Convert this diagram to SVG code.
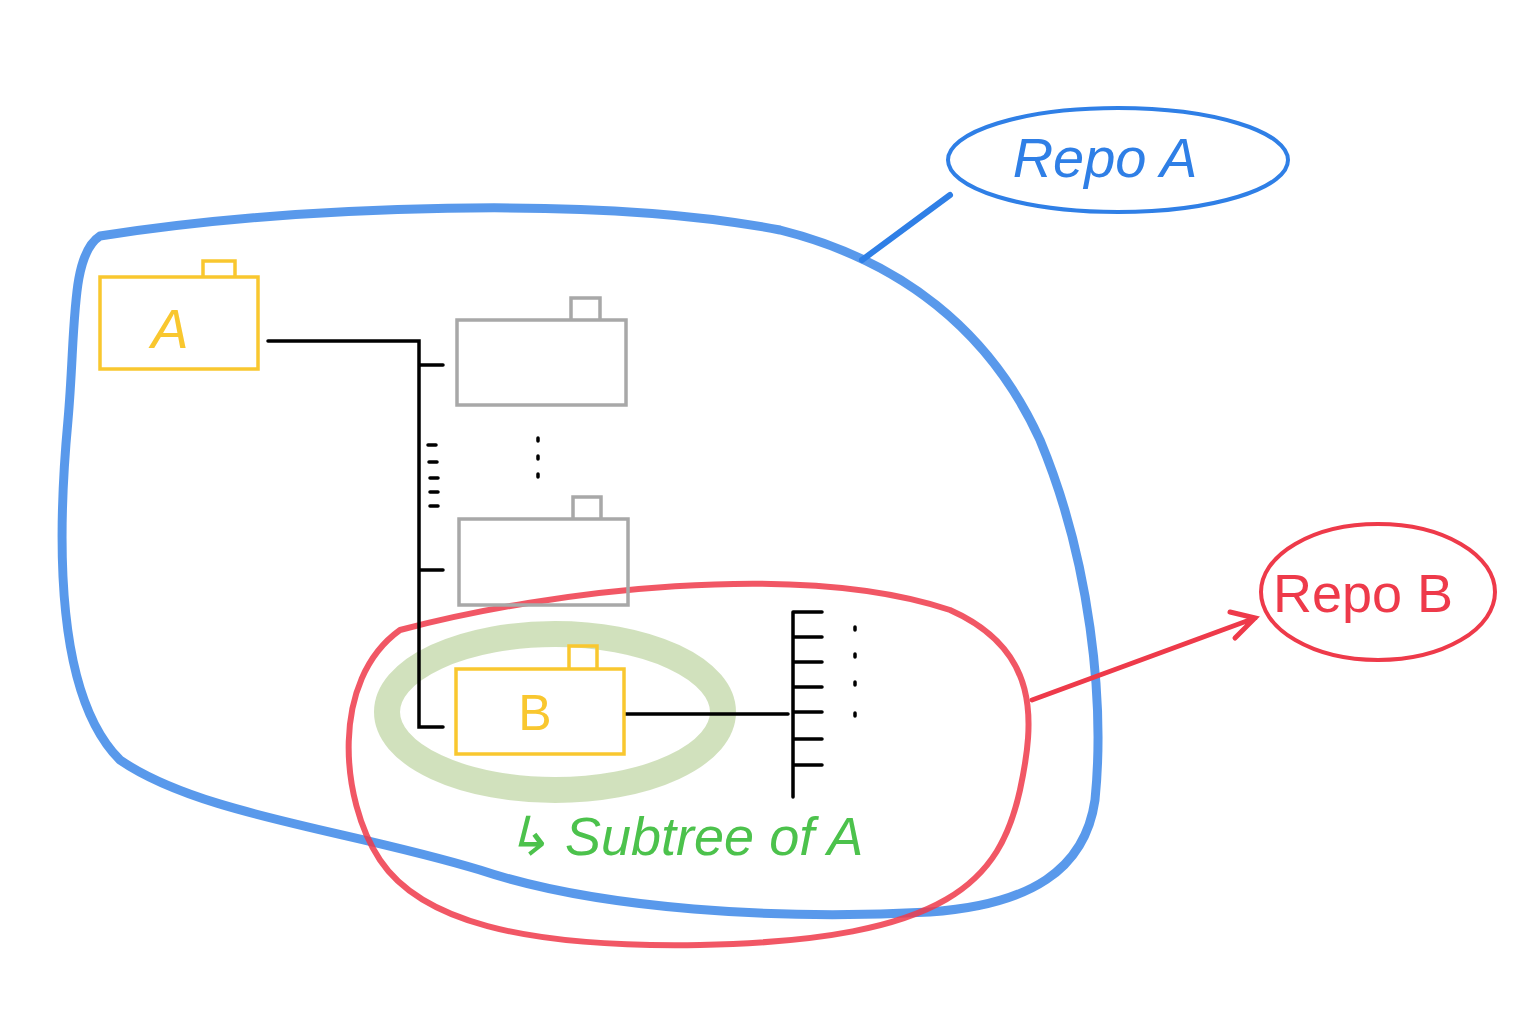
<svg xmlns="http://www.w3.org/2000/svg" width="1536" height="1024" viewBox="0 0 1536 1024">
<style>
.f{fill:none;stroke-width:3.5}
.y{stroke:#F9C72F}.g{stroke:#A8A8A8}
.k{stroke:#000;stroke-width:3.5;fill:none;stroke-linecap:round}
.h{font-family:"Liberation Sans",sans-serif;font-style:italic}
</style>
<rect width="1536" height="1024" fill="#fff"/>
<g id="blue-region"><path d="M100,236 C300,205 600,195 780,230 C900,260 990,330 1040,440 C1090,560 1105,700 1095,800 C1085,870 1030,905 930,912 C780,920 600,910 480,870 C350,830 200,815 120,760 C60,700 55,560 68,420 C76,330 70,255 100,236 Z" fill="none" stroke="#2F7FE6" stroke-width="9" stroke-opacity="0.8"/></g>
<g id="red-region"><path d="M400,630 C550,590 800,560 950,610 C1040,650 1035,720 1020,790 C1000,880 950,940 700,945 C520,948 420,920 380,860 C340,800 330,680 400,630 Z" fill="none" stroke="#EE3A4A" stroke-width="6" stroke-opacity="0.85"/></g>
<g id="subtree-highlight"><ellipse cx="555" cy="712" rx="168" ry="78" fill="none" stroke="#8DB55A" stroke-width="26" stroke-opacity="0.4"/></g>
<g id="connectors">
<path class="k" d="M268,341 H419 V727 H443 M419,365 H443 M419,570 H443 M428,445 h8 M429,462 h8 M430,478 h8 M430,492 h8 M430,506 h8"/>
<path class="k" d="M625,714 H788 M793,612 V797 M793,612 H822 M793,637 H822 M793,662 H822 M793,687 H822 M793,712 H822 M793,739 H822 M793,765 H822"/>
<path class="k" d="M538,438 v3 M538,456 v3 M538,474 v3 M855,627 v3 M855,654 v3 M855,682 v3 M855,713 v3" stroke-width="5"/>
<path d="M862,260 L950,195" stroke="#2F7FE6" stroke-width="6" fill="none" stroke-linecap="round"/>
<path d="M1032,700 L1255,618 M1230,612 L1255,618 L1235,638" stroke="#EE3A4A" stroke-width="5" fill="none" stroke-linecap="round"/>
</g>
<g id="folder-A"><rect class="f y" x="100" y="277" width="158" height="92"/><path class="f y" d="M203,277 V261 H235 V277"/><text class="h" x="170" y="348" font-size="56" fill="#F9C72F" text-anchor="middle">A</text></g>
<g id="folder-gray-1"><rect class="f g" x="457" y="320" width="169" height="85"/><path class="f g" d="M571,320 V298 H600 V320"/></g>
<g id="folder-gray-2"><rect class="f g" x="459" y="519" width="169" height="86"/><path class="f g" d="M573,519 V497 H601 V519"/></g>
<g id="folder-B"><rect class="f y" x="456" y="669" width="168" height="85"/><path class="f y" d="M569,669 V646 H597 V669"/><text x="535" y="730" font-family="Liberation Sans,sans-serif" font-size="50" fill="#F9C72F" text-anchor="middle">B</text></g>
<g id="repo-A"><ellipse cx="1118" cy="160" rx="170" ry="52" fill="none" stroke="#2F7FE6" stroke-width="4"/><text class="h" x="1105" y="177" font-size="56" fill="#2F7FE6" text-anchor="middle">Repo  A</text></g>
<g id="repo-B"><ellipse cx="1378" cy="592" rx="117" ry="68" fill="none" stroke="#EE3A4A" stroke-width="4"/><text x="1363" y="612" font-family="Liberation Sans,sans-serif" font-size="54" fill="#EE3A4A" text-anchor="middle">Repo B</text></g>
<g id="subtree-label"><text class="h" x="505" y="855" font-size="54" fill="#4CC24C">↳ Subtree of A</text></g>
</svg>
